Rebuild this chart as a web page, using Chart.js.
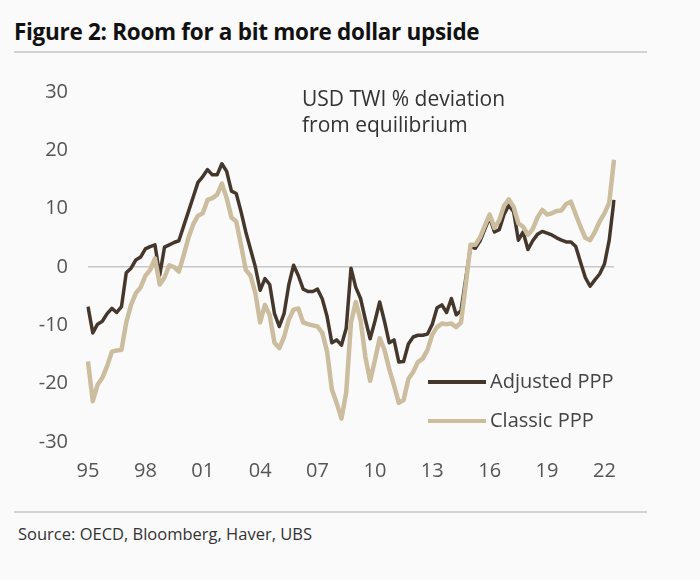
<!DOCTYPE html>
<html>
<head>
<meta charset="utf-8">
<script src="https://cdn.jsdelivr.net/npm/chart.js@4.4.1/dist/chart.umd.min.js"></script>
<style>
  body { margin: 0; background: #fafafa; width: 700px; height: 580px; overflow: hidden; position: relative; font-family: "Open Sans", sans-serif; }
  #title { position: absolute; left: 14px; top: 16px; font-size: 22.5px; font-weight: bold; color: #111; letter-spacing: -0.3px; }
  .rule { position: absolute; left: 14px; width: 633px; height: 2px; background: #d2d2d2; }
  #box { position: absolute; left: 0; top: 60px; width: 660px; height: 440px; }
  #note { position: absolute; left: 302px; top: 85px; font-size: 21px; line-height: 26px; color: #333; }
  #source { position: absolute; left: 18px; top: 522px; font-size: 16.5px; color: #333; }
</style>
</head>
<body>
<div id="title">Figure 2: Room for a bit more dollar upside</div>
<div class="rule" style="top:51px"></div>
<div id="box"><canvas id="chart"></canvas></div>
<div id="note">USD TWI % deviation<br>from equilibrium</div>
<div class="rule" style="top:511px"></div>
<div id="source">Source: OECD, Bloomberg, Haver, UBS</div>
<script>
// quarterly, 1995Q1 .. 2022Q3
const startYear = 1995;
const adjustedPPP = [
  -6.8, -11.3, -9.8, -9.3, -8.0, -7.1, -7.8, -6.8, -1.0, -0.2,
  1.2, 1.7, 3.1, 3.5, 3.8, -1.4, 3.4, 3.8, 4.2, 4.5,
  7.0, 9.5, 12.0, 14.5, 15.5, 16.7, 15.8, 15.8, 17.7, 16.4,
  13.0, 12.6, 9.5, 6.0, 3.0, 0.0, -4.0, -2.0, -3.0, -8.0,
  -10.2, -8.0, -3.0, 0.3, -1.5, -3.8, -4.2, -4.2, -3.8, -5.5,
  -8.5, -13.0, -12.5, -13.4, -10.5, -0.2, -3.5, -5.4, -9.0, -12.3,
  -9.3, -6.0, -9.3, -13.0, -12.5, -16.3, -16.2, -13.2, -12.0, -11.7,
  -11.7, -11.5, -9.8, -7.0, -6.5, -7.8, -5.4, -8.2, -7.5, -2.0,
  3.5, 3.2, 4.5, 6.5, 8.5, 6.0, 6.4, 9.0, 10.6, 9.5,
  4.6, 6.0, 3.0, 4.5, 5.6, 6.1, 5.8, 5.5, 5.0, 4.6,
  4.3, 4.3, 3.5, 0.8, -1.8, -3.3, -2.2, -1.2, 0.5, 4.6,
  11.5
];
const classicPPP = [
  -16.2, -23.0, -20.2, -19.0, -17.0, -14.5, -14.3, -14.2, -9.5, -6.5,
  -4.5, -3.5, -1.5, -0.5, 1.5, -3.0, -1.8, 0.3, 0.0, -0.8,
  2.0, 5.0, 7.3, 8.8, 9.2, 11.5, 11.8, 12.4, 14.3, 11.8,
  8.5, 7.8, 3.8, -0.5, -1.5, -4.5, -9.5, -6.5, -8.3, -13.0,
  -13.9, -12.0, -9.0, -7.3, -7.1, -9.5, -9.8, -10.0, -10.2, -11.3,
  -14.5, -21.0, -23.3, -26.0, -21.5, -9.5, -6.0, -9.1, -15.4, -19.5,
  -16.0, -12.2, -14.2, -17.5, -20.3, -23.3, -22.8, -19.2, -18.0, -16.3,
  -15.7, -14.2, -11.6, -10.3, -9.7, -9.8, -9.7, -10.3, -9.5, -3.0,
  3.8, 3.8, 5.1, 7.1, 9.0, 6.7, 8.0, 10.5, 11.6, 10.3,
  7.5, 6.9, 5.5, 6.5, 8.5, 9.8, 9.0, 9.2, 9.6, 9.7,
  10.8, 11.2, 9.0, 6.9, 5.0, 4.6, 6.0, 7.8, 9.2, 11.0,
  18.4
];
const yearTicks = ["95", "98", "01", "04", "07", "10", "13", "16", "19", "22"];
const yTicks = [30, 20, 10, 0, -10, -20, -30];

const labels = adjustedPPP.map((_, i) => (startYear + Math.floor(i / 4)) + "Q" + (i % 4 + 1));

const DARK = "#46372d";
const LIGHT = "#cbbd9e";

// legend drawn inside the plot, bottom right
const innerLegend = {
  id: "innerLegend",
  afterDraw(chart) {
    const ctx = chart.ctx;
    const rows = [
      { text: "Adjusted PPP", color: DARK, y: 322 },
      { text: "Classic PPP", color: LIGHT, y: 361 },
    ];
    ctx.save();
    ctx.font = '20px "Open Sans"';
    ctx.textBaseline = "middle";
    rows.forEach(r => {
      ctx.strokeStyle = r.color;
      ctx.lineWidth = 4;
      ctx.beginPath();
      ctx.moveTo(428, r.y);
      ctx.lineTo(486, r.y);
      ctx.stroke();
      ctx.fillStyle = "#444";
      ctx.fillText(r.text, 490, r.y);
    });
    ctx.restore();
  }
};

new Chart(document.getElementById("chart"), {
  type: "line",
  data: {
    labels: labels,
    datasets: [
      { label: "Adjusted PPP", data: adjustedPPP, borderColor: DARK, borderWidth: 3.5, order: 1 },
      { label: "Classic PPP", data: classicPPP, borderColor: LIGHT, borderWidth: 4.5, order: 0 },
    ],
  },
  options: {
    responsive: true,
    maintainAspectRatio: false,
    animation: false,
    events: [],
    layout: { padding: { top: 32, right: 46, left: 0, bottom: 0 } },
    elements: { point: { radius: 0 }, line: { tension: 0, borderJoinStyle: "round" } },
    plugins: { legend: { display: false }, tooltip: { enabled: false } },
    scales: {
      x: {
        offset: false,
        grid: { display: false },
        border: { display: false },
        afterFit: (s) => { s.height = 58; },
        ticks: {
          autoSkip: false,
          maxRotation: 0,
          padding: 9,
          color: "#555",
          font: { family: "Open Sans", size: 20 },
          callback: function (v, i) {
            if (i % 12 !== 0) return null;
            return yearTicks[i / 12];
          },
        },
      },
      y: {
        min: -30,
        max: 30,
        afterFit: (s) => { s.width = 88; },
        afterBuildTicks: (s) => { s.ticks = yTicks.map(v => ({ value: v })); },
        border: { display: false },
        grid: {
          drawTicks: false,
          color: (c) => (c.tick && c.tick.value === 0 ? "#c8c8c8" : "rgba(0,0,0,0)"),
          lineWidth: 1.5,
        },
        ticks: {
          padding: 20,
          color: "#555",
          font: { family: "Open Sans", size: 20 },
        },
      },
    },
  },
  plugins: [innerLegend],
});
</script>
</body>
</html>
